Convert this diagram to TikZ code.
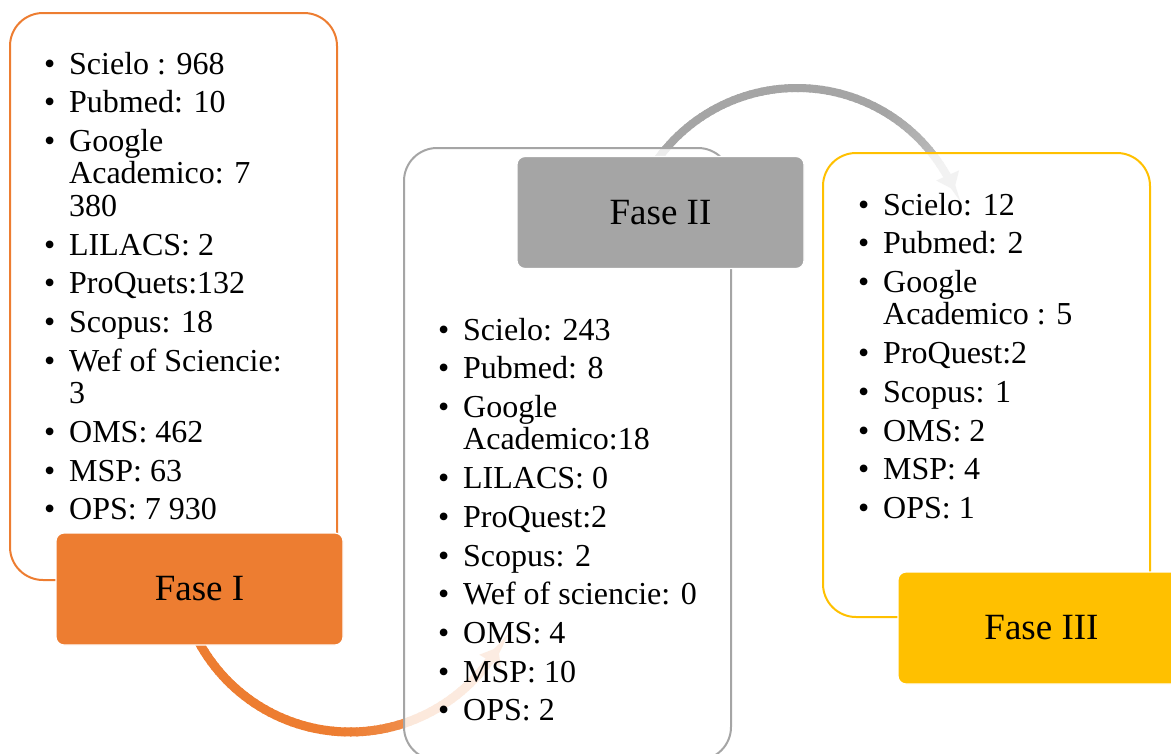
\documentclass[tikz,border=0pt]{standalone}
\usepackage{fontspec}
\setmainfont{Liberation Serif}
\usetikzlibrary{arrows.meta,calc}
\definecolor{cOr}{HTML}{ED7D31}
\definecolor{cGr}{HTML}{A5A5A5}
\definecolor{cYe}{HTML}{FFC000}
\newcommand\bli[1]{\par\addvspace{6.2pt}\noindent\hangindent=25pt\hangafter=1\makebox[25pt][l]{\textbullet}#1}
\newcommand\blist[1]{\begin{minipage}[t]{300pt}\fontsize{32}{32.5}\selectfont #1\par\end{minipage}}
\tikzset{
  phasebox/.style={draw=#1, line width=2pt, fill=white, fill opacity=0.8, rounded corners=33pt, inner sep=0pt},
  phaselabel/.style={fill=#1, draw=white, line width=1.2pt, rounded corners=8pt, minimum width=287pt, minimum height=112pt, inner sep=0pt, text=black, font=\fontsize{37}{40}\selectfont},
  listtxt/.style={anchor=base west, inner sep=0pt, text=black},
  seg/.style={line width=9pt, line cap=butt}
}
\begin{document}
\begin{tikzpicture}[x=1pt,y=-1pt]
\useasboundingbox (0,0) rectangle (1171,753);
\clip (0,0) rectangle (1171,753);
% arc centres
\coordinate (oc) at (350,560);
\coordinate (gc) at (797,260);
% orange arc (Fase I -> Fase II)
\foreach \a in {152,150,...,40}{
  \pgfmathsetmacro\p{\a>95 ? 100 : 100-30*(95-\a)/57}
  \draw[seg, draw=cOr!\p!white] ($(oc)+(\a:172)$) arc[start angle=\a, end angle=\a-2.6, radius=172];
}
\draw[seg, draw=cOr!70!white, -{Triangle[width=24pt,length=16pt]}] ($(oc)+(38:172)$) arc[start angle=38, end angle=30.5, radius=172];
% gray arc (Fase II -> Fase III)
\foreach \a in {214,216,...,326}{
  \pgfmathsetmacro\p{\a<300 ? 100 : 100-30*(\a-300)/28}
  \draw[seg, line width=8pt, draw=cGr!\p!white] ($(gc)+(\a:172)$) arc[start angle=\a, end angle=\a+2.6, radius=172];
}
\draw[seg, line width=8pt, draw=cGr!70!white, -{Triangle[width=24pt,length=16pt]}] ($(gc)+(328:172)$) arc[start angle=328, end angle=336, radius=172];
% outline boxes
\node[phasebox=cOr, minimum width=327pt, minimum height=567pt] (b1) at (173.5,296.5) {};
\node[phasebox=cGr, minimum width=327pt, minimum height=612pt] (b2) at (567.5,454) {};
\node[phasebox=cYe, minimum width=327pt, minimum height=464pt] (b3) at (986.5,385) {};
% labels
\node[phaselabel=cOr] (l1) at (199.5,589) {Fase I};
\node[phaselabel=cGr] (l2) at (660.5,212.5) {Fase II};
\node[phaselabel=cYe] (l3) at (1041.5,628) {Fase III};
% lists
\node[listtxt] (t1) at (44,74) {\blist{%
\bli{Scielo : 968}
\bli{Pubmed: 10}
\bli{Google\newline Academico: 7\newline 380}
\bli{LILACS: 2}
\bli{ProQuets:132}
\bli{Scopus: 18}
\bli{Wef of Sciencie:\newline 3}
\bli{OMS: 462}
\bli{MSP: 63}
\bli{OPS: 7 930}}};
\node[listtxt] (t2) at (438,340) {\blist{%
\bli{Scielo: 243}
\bli{Pubmed: 8}
\bli{Google\newline Academico:18}
\bli{LILACS: 0}
\bli{ProQuest:2}
\bli{Scopus: 2}
\bli{Wef of sciencie: 0}
\bli{OMS: 4}
\bli{MSP: 10}
\bli{OPS: 2}}};
\node[listtxt] (t3) at (858,215) {\blist{%
\bli{Scielo: 12}
\bli{Pubmed: 2}
\bli{Google\newline Academico : 5}
\bli{ProQuest:2}
\bli{Scopus: 1}
\bli{OMS: 2}
\bli{MSP: 4}
\bli{OPS: 1}}};
\end{tikzpicture}
\end{document}
